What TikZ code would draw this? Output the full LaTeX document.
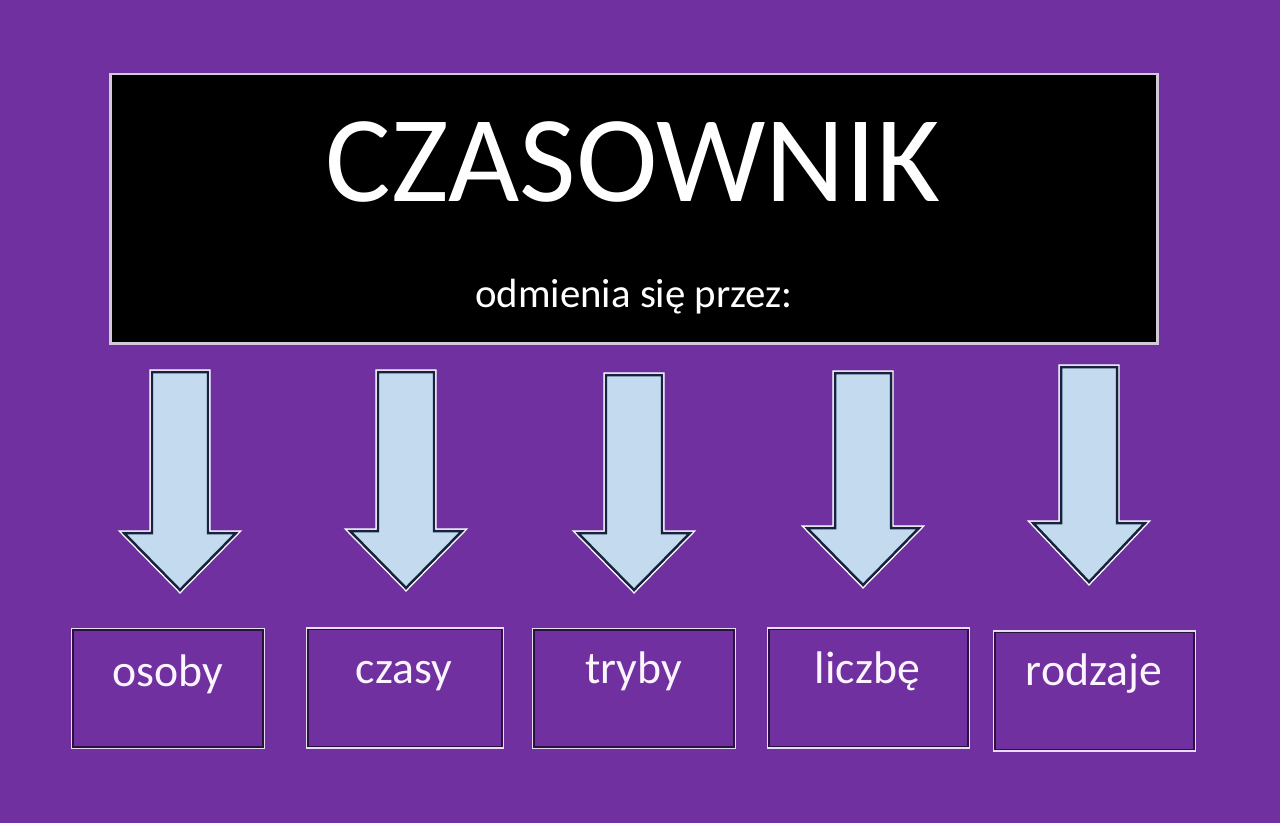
\documentclass[tikz,border=0pt]{standalone}
\usepackage{fontspec}
\setmainfont{Carlito}
\usetikzlibrary{positioning,calc}
\definecolor{czBg}{HTML}{7030A0}
\definecolor{czArrow}{HTML}{C3DAEF}
\definecolor{czNavy}{HTML}{16223F}
\definecolor{czEdge}{HTML}{E6DDF0}
\definecolor{czDark}{HTML}{2A1240}
\definecolor{czText}{HTML}{FCF4FF}
\tikzset{
  head box/.style={fill=black, draw=czEdge!80!gray, line width=0.8pt,
    minimum width=10.46cm, minimum height=2.69cm, inner sep=0pt},
  word box/.style={draw=czEdge, line width=0.8pt, minimum height=1.19cm, inner sep=0pt},
  word/.style={font=\fontsize{13}{15}\selectfont, text=czText, anchor=base, inner sep=0pt},
  block arrow/.style={fill=czArrow, draw=czNavy, line width=0.7pt, line join=miter,
    preaction={draw=white, line width=1.5pt}},
}

\begin{document}
\begin{tikzpicture}[x=0.01cm, y=-0.01cm]
  % Background
  \fill[czBg] (0,0) rectangle (1280,823);

  % ---- Header ----
  \node[head box] (verb) at (634,208.5) {};
  \node[font=\fontsize{35}{40}\selectfont, text=white, anchor=base, inner sep=0pt]
    (title) at (633,201) {CZASOWNIK};
  \node[font=\fontsize{11.6}{14}\selectfont, text=white, anchor=base, inner sep=0pt]
    (sub) at (634,307) {odmienia się przez:};

  % ---- Arrows ----
  \foreach \cx/\ytop/\ybase/\ytip in {180/372/533/590, 406/372/531/588,
                                      634/375/533/590, 863/373/528/585,
                                      1089/367/523/582} {
    \filldraw[block arrow]
      (\cx-28,\ytop) -- (\cx+28,\ytop) -- (\cx+28,\ybase) -- (\cx+56,\ybase)
      -- (\cx,\ytip) -- (\cx-56,\ybase) -- (\cx-28,\ybase) -- cycle;
  }

  % ---- Boxes ----
  \foreach \n/\cx/\cy/\w/\tx/\ty in {osoby/168/688.5/1.92/168/686,
                                     czasy/405/688/1.96/404/683,
                                     tryby/634/688.5/2.02/633.5/683,
                                     liczbę/868.5/688/2.01/867.5/683,
                                     rodzaje/1094.5/691/2.01/1094/685} {
    \node[word box, minimum width=\w cm] (b-\n) at (\cx,\cy) {};
    \draw[czDark, line width=0.45pt]
      ($(b-\n.south west)+(2.3,-2.3)$) rectangle ($(b-\n.north east)+(-2.3,2.3)$);
    \node[word] (t-\n) at (\tx,\ty) {\n};
  }
\end{tikzpicture}
\end{document}
